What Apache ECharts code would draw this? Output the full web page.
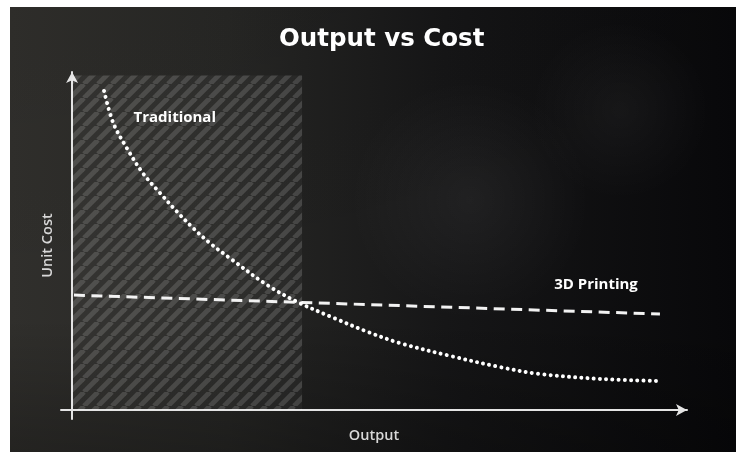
<!DOCTYPE html>
<html>
<head>
<meta charset="utf-8">
<script src="https://cdn.jsdelivr.net/npm/echarts@6/dist/echarts.min.js"></script>
<style>
  html, body { margin: 0; padding: 0; background: #ffffff; }
  #chart { width: 736px; height: 452px; }
</style>
</head>
<body>
<div id="chart"></div>
<script>
// Output (0-100) against unit cost (0-100), relative scale
const traditionalOutput = [5.2, 6.7, 8.9, 11.5, 14.3, 17.1, 19.7, 22.4, 25.7, 31.7, 36.6, 42.6, 48.1, 53.3, 61.5, 69.6, 75.9, 85.9, 95.3];
const traditionalCost   = [94.4, 84.9, 77.5, 70.1, 64.2, 58.6, 53.8, 49.4, 44.9, 37.0, 32.0, 27.2, 23.1, 19.8, 16.0, 12.7, 10.7, 9.2, 8.6];
const printingOutput = [0.3, 95.6];
const printingCost   = [34.0, 28.4];
// Low-volume zone where 3D printing is cheaper
const zoneOutput = [0, 37.4];
const zoneCost = [0, 99];
const seriesNames = ['Traditional', '3D Printing'];
const labelAt = { Traditional: [16.7, 86.4], '3D Printing': [85.2, 37.0] };

function pairs(xs, ys) { return xs.map((x, i) => [x, ys[i]]); }

// Diagonal hatch tile for the zone
function hatchTile() {
  const s = 14;
  const c = document.createElement('canvas');
  c.width = s; c.height = s;
  const g = c.getContext('2d');
  g.fillStyle = 'rgba(255,255,255,0.035)';
  g.fillRect(0, 0, s, s);
  g.strokeStyle = 'rgba(255,255,255,0.14)';
  g.lineWidth = 5;
  for (let k = -1; k <= 1; k++) {
    g.beginPath();
    g.moveTo(k * s, s);
    g.lineTo(k * s + s, 0);
    g.stroke();
  }
  return c;
}

const chart = echarts.init(document.getElementById('chart'), null, { renderer: 'canvas' });
const font = '"Open Sans", "DejaVu Sans", sans-serif';
const titleFont = '"DejaVu Sans", sans-serif';

chart.setOption({
  animation: false,
  backgroundColor: '#ffffff',
  graphic: [
    {
      type: 'rect', z: -100, silent: true,
      shape: { x: 10, y: 7, width: 726, height: 445 },
      style: {
        fill: {
          type: 'linear', x: 0, y: 0, x2: 1, y2: 0,
          colorStops: [
            { offset: 0, color: '#302f2c' },
            { offset: 0.3, color: '#272725' },
            { offset: 0.6, color: '#161617' },
            { offset: 1, color: '#08080a' }
          ]
        }
      }
    },
    {
      type: 'rect', z: -99, silent: true,
      shape: { x: 10, y: 7, width: 726, height: 445 },
      style: {
        fill: {
          type: 'linear', x: 0, y: 0, x2: 0, y2: 1,
          colorStops: [
            { offset: 0, color: 'rgba(0,0,0,0.05)' },
            { offset: 0.7, color: 'rgba(0,0,0,0)' },
            { offset: 1, color: 'rgba(0,0,0,0.25)' }
          ]
        }
      }
    },
    {
      type: 'circle', z: -98, silent: true,
      shape: { cx: 470, cy: 200, r: 120 },
      style: {
        fill: {
          type: 'radial', x: 0.5, y: 0.5, r: 0.5,
          colorStops: [
            { offset: 0, color: 'rgba(255,255,255,0.05)' },
            { offset: 1, color: 'rgba(255,255,255,0)' }
          ]
        }
      }
    },
    {
      type: 'circle', z: -98, silent: true,
      shape: { cx: 620, cy: 110, r: 90 },
      style: {
        fill: {
          type: 'radial', x: 0.5, y: 0.5, r: 0.5,
          colorStops: [
            { offset: 0, color: 'rgba(255,255,255,0.04)' },
            { offset: 1, color: 'rgba(255,255,255,0)' }
          ]
        }
      }
    }
  ],
  title: {
    text: 'Output vs Cost',
    left: 274,
    top: 22,
    textStyle: { color: '#ffffff', fontFamily: titleFont, fontWeight: 'bold', fontSize: 24.5 }
  },
  grid: { left: 61, right: 49, top: 72, bottom: 33, outerBoundsMode: 'none' },
  xAxis: {
    type: 'value', min: -1.8, max: 100,
    name: 'Output', nameLocation: 'middle', nameGap: 9, nameMoveOverlap: false,
    nameTextStyle: { color: '#d8d8d8', fontFamily: font, fontSize: 14.5, fontWeight: 600 },
    axisLine: { onZero: true, symbol: ['none', 'arrow'], symbolSize: [9, 11], lineStyle: { color: '#e4e4e4', width: 2 } },
    axisTick: { show: false }, axisLabel: { show: false }, splitLine: { show: false }
  },
  yAxis: {
    type: 'value', min: -2.66, max: 100,
    name: 'Unit Cost', nameLocation: 'middle', nameGap: 6, nameRotate: 90, nameMoveOverlap: false,
    nameTextStyle: { color: '#d8d8d8', fontFamily: font, fontSize: 14.5, fontWeight: 600 },
    axisLine: { onZero: true, symbol: ['none', 'arrow'], symbolSize: [9, 11], lineStyle: { color: '#e4e4e4', width: 2 } },
    axisTick: { show: false }, axisLabel: { show: false }, splitLine: { show: false }
  },
  series: [
    {
      name: seriesNames[0],
      type: 'line',
      data: pairs(traditionalOutput, traditionalCost),
      smooth: 0.35,
      symbol: 'none',
      z: 4,
      lineStyle: { color: '#ffffff', width: 4, type: [0.01, 6.2], cap: 'round' },
      markArea: {
        silent: true,
        itemStyle: { color: { image: hatchTile(), repeat: 'repeat' } },
        data: [[{ coord: [zoneOutput[0], zoneCost[0]] }, { coord: [zoneOutput[1], zoneCost[1]] }]]
      },
      markPoint: {
        symbol: 'circle', symbolSize: 0, silent: true,
        label: { show: true, formatter: seriesNames[0], color: '#ffffff', fontFamily: font, fontWeight: 'bold', fontSize: 15 },
        data: [{ coord: labelAt[seriesNames[0]] }]
      }
    },
    {
      name: seriesNames[1],
      type: 'line',
      data: pairs(printingOutput, printingCost),
      symbol: 'none',
      z: 3,
      lineStyle: { color: '#f2f2f2', width: 3, type: [11, 6.5] },
      markPoint: {
        symbol: 'circle', symbolSize: 0, silent: true,
        label: { show: true, formatter: seriesNames[1], color: '#ffffff', fontFamily: font, fontWeight: 'bold', fontSize: 15 },
        data: [{ coord: labelAt[seriesNames[1]] }]
      }
    }
  ]
});
</script>
</body>
</html>
